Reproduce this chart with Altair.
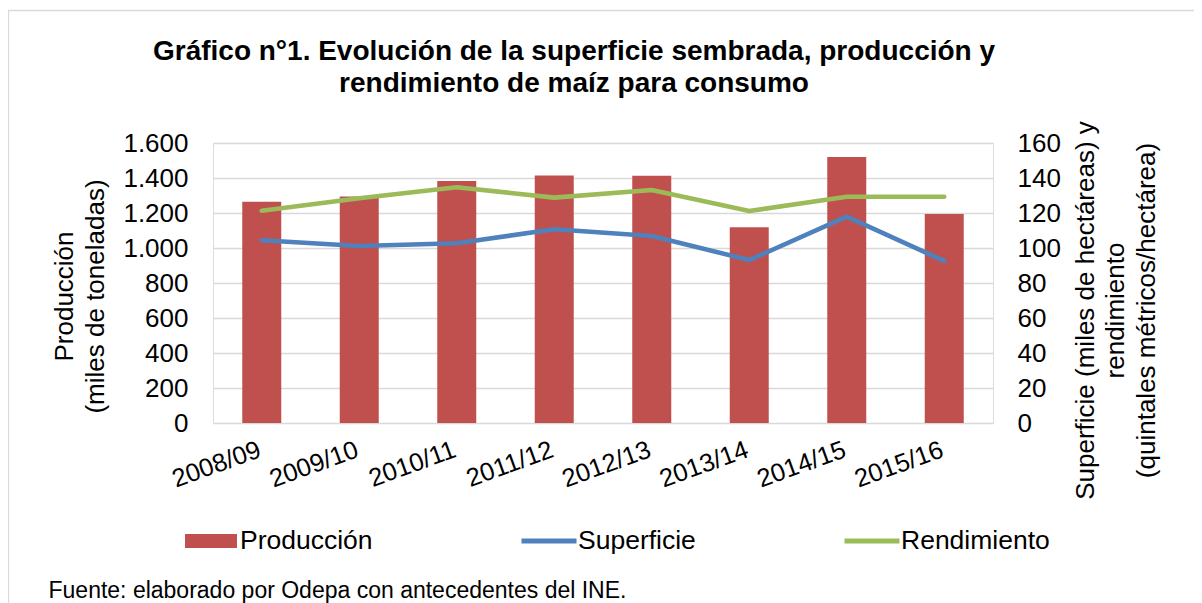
import altair as alt
import pandas as pd

temporadas = ["2008/09", "2009/10", "2010/11", "2011/12", "2012/13", "2013/14", "2014/15", "2015/16"]
produccion = [1265, 1295, 1383, 1415, 1413, 1118, 1520, 1194]
superficie = [104.4, 101.1, 102.7, 110.7, 106.9, 93.1, 117.9, 92.6]
rendimiento = [121.3, 128.4, 134.7, 128.8, 133.1, 121.1, 129.3, 129.3]
series = ["Producción", "Superficie", "Rendimiento"]
colores = ["#C0504D", "#4F81BD", "#9BBB59"]
ticks_izq = [0, 200, 400, 600, 800, 1000, 1200, 1400, 1600]
ticks_der = [0, 20, 40, 60, 80, 100, 120, 140, 160]
simbolos = ["M-0.945,-0.255H0.945V0.255H-0.945Z", "M-1,-0.09H1V0.09H-1Z", "M-1,-0.09H1V0.09H-1Z"]

titulo = ["Gráfico n°1. Evolución de la superficie sembrada, producción  y",
          "rendimiento de maíz para consumo"]
titulo_izq = ["Producción", "(miles de toneladas)"]
titulo_der = ["Superficie (miles de hectáreas) y", "rendimiento", "(quintales métricos/hectárea)"]
fuente = "Fuente: elaborado por Odepa con antecedentes del INE."

FONT = "Liberation Sans"
W, H = 780, 280

df_bar = pd.DataFrame({"temporada": temporadas, "valor": produccion})
df_sup = pd.DataFrame({"temporada": temporadas, "valor": superficie})
df_ren = pd.DataFrame({"temporada": temporadas, "valor": rendimiento})
df_leg = pd.DataFrame({"serie": series})

x_enc = alt.X(
    "temporada:N", sort=temporadas,
    scale=alt.Scale(paddingInner=0.6, paddingOuter=0.3),
    axis=alt.Axis(
        title=fuente, labelAngle=-20, labelAlign="right", labelBaseline="top",
        labelPadding=14, labelOffset=-6, labelFontSize=25.5, labelFont=FONT,
        labelColor="black", ticks=False, domain=False, grid=False,
        titleX=-165, titleY=174, titleAlign="left", titleBaseline="alphabetic",
        titleFontSize=23, titleFontWeight="normal", titleFont=FONT, titleColor="black",
    ),
)

y_right = alt.Y(
    "valor:Q", scale=alt.Scale(domain=[0, 160], nice=False),
    axis=alt.Axis(
        orient="right", values=ticks_der, grid=False, ticks=False, domain=False,
        labelPadding=24, labelFontSize=26, labelFont=FONT, labelColor="black",
        title=titulo_der, titleAngle=-90, titleX=92, titleY=167,
        titleAlign="center", titleBaseline="middle", titleFontSize=26,
        titleFontWeight="normal", titleFont=FONT, titleColor="black",
        titleLineHeight=30.5,
    ),
)

frame = alt.Chart(alt.Data(values=[{}])).mark_rect(
    filled=False, color="#d9d9d9", strokeWidth=1.3
).encode(
    x=alt.value(-204.5), x2=alt.value(W + 210),
    y=alt.value(-132.5), y2=alt.value(H + 200),
)

bars = alt.Chart(df_bar).mark_bar(color=colores[0]).encode(
    x=x_enc,
    y=alt.Y(
        "valor:Q", scale=alt.Scale(domain=[0, 1600], nice=False),
        axis=alt.Axis(
            values=ticks_izq,
            labelExpr="replace(format(datum.value, ','), ',', '.')",
            title=titulo_izq, grid=True, gridColor="#d9d9d9", gridWidth=1.3,
            ticks=False, domain=False, labelPadding=25, labelFontSize=26,
            labelFont=FONT, labelColor="black",
            titleAngle=-90, titleX=-149, titleY=153, titleAlign="center",
            titleBaseline="middle", titleFontSize=26, titleFontWeight="normal",
            titleFont=FONT, titleColor="black", titleLineHeight=31,
        ),
    ),
)

line_kw = dict(strokeWidth=4.6, strokeCap="round", strokeJoin="round")
line_sup = alt.Chart(df_sup).mark_line(color=colores[1], **line_kw).encode(x=x_enc, y=y_right)
line_ren = alt.Chart(df_ren).mark_line(color=colores[2], **line_kw).encode(x=x_enc, y=y_right)
lines = alt.layer(line_sup, line_ren)

leg_props = dict(
    title=None, orient="none", legendX=-29.5, legendY=370.5, direction="horizontal",
    columns=3, symbolSize=3025, symbolStrokeWidth=0, labelFontSize=26.5,
    labelFont=FONT, labelColor="black", labelOffset=1.5, columnPadding=148,
    labelLimit=400, padding=0,
)

legend_layer = alt.Chart(df_leg).transform_filter("false").mark_point(filled=True, opacity=1).encode(
    color=alt.Color("serie:N", scale=alt.Scale(domain=series, range=colores),
                    legend=alt.Legend(**leg_props)),
    shape=alt.Shape("serie:N", scale=alt.Scale(domain=series, range=simbolos),
                    legend=alt.Legend(**leg_props)),
)

chart = alt.layer(frame, bars, lines, legend_layer).resolve_scale(
    y="independent"
).properties(
    width=W, height=H,
    autosize=alt.AutoSizeParams(type="none"),
    padding={"left": 205, "top": 135, "right": 201, "bottom": 180},
    title=alt.TitleParams(
        text=titulo, fontSize=28, font=FONT, fontWeight="bold", color="black",
        anchor="middle", frame="group", dx=-29, dy=88, offset=0, lineHeight=32,
    ),
).configure_view(stroke=None).configure(background="white")

chart.save("out.html", embed_options={"renderer": "svg", "actions": False})
